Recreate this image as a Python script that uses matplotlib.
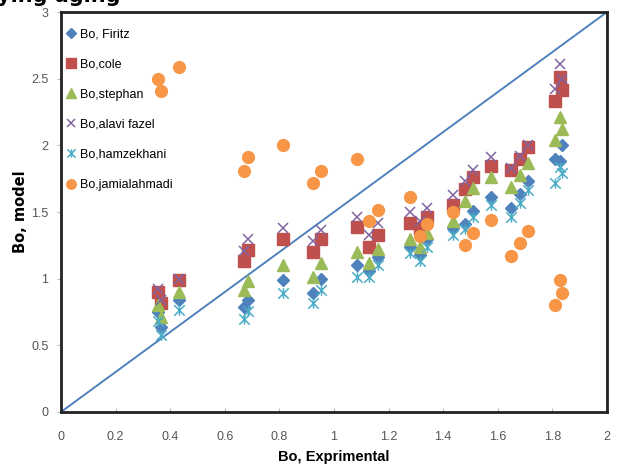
import numpy as np
import matplotlib
matplotlib.use('Agg')
import matplotlib.pyplot as plt
from matplotlib.path import Path

# experimental Bo values (x axis)
bo_exp = [0.357, 0.366, 0.433, 0.671, 0.686, 0.812, 0.925, 0.952, 1.083, 1.13, 1.16, 1.278,
          1.315, 1.342, 1.437, 1.48, 1.508, 1.575, 1.65, 1.68, 1.71, 1.81, 1.828, 1.834]

# model predictions
bo_firitz = [0.75, 0.64, 0.84, 0.785, 0.84, 0.99, 0.89, 1.0, 1.10, 1.06, 1.165, 1.24,
             1.18, 1.30, 1.38, 1.41, 1.51, 1.615, 1.53, 1.635, 1.735, 1.90, 1.88, 2.0]
bo_cole = [0.90, 0.815, 0.99, 1.13, 1.215, 1.30, 1.20, 1.30, 1.385, 1.235, 1.33, 1.415,
           1.38, 1.465, 1.55, 1.67, 1.76, 1.845, 1.815, 1.90, 1.99, 2.33, 2.515, 2.415]
bo_stephan = [0.80, 0.715, 0.90, 0.915, 0.98, 1.10, 1.015, 1.115, 1.20, 1.115, 1.22, 1.295,
              1.24, 1.34, 1.43, 1.58, 1.68, 1.765, 1.69, 1.78, 1.865, 2.04, 2.215, 2.12]
bo_alavi = [0.92, 0.84, 1.0, 1.21, 1.30, 1.38, 1.285, 1.365, 1.465, 1.33, 1.415, 1.50,
            1.43, 1.53, 1.63, 1.73, 1.815, 1.915, 1.83, 1.92, 2.0, 2.42, 2.61, 2.5]
bo_hamzekhani = [0.68, 0.58, 0.765, 0.70, 0.76, 0.89, 0.815, 0.915, 1.015, 1.015, 1.10, 1.19,
                 1.13, 1.24, 1.33, 1.37, 1.465, 1.55, 1.465, 1.565, 1.665, 1.715, 1.84, 1.79]
bo_jamialahmadi = [2.50, 2.41, 2.59, 1.81, 1.915, 2.0, 1.715, 1.81, 1.90, 1.43, 1.515, 1.61,
                   1.32, 1.41, 1.50, 1.255, 1.345, 1.44, 1.17, 1.265, 1.357, 0.80, 0.99, 0.89]

x_ticks = [0, 0.2, 0.4, 0.6, 0.8, 1, 1.2, 1.4, 1.6, 1.8, 2]
x_ticklabels = ['0', '0.2', '0.4', '0.6', '0.8', '1', '1.2', '1.4', '1.6', '1.8', '2']
y_ticks = [0, 0.5, 1, 1.5, 2, 2.5, 3]
y_ticklabels = ['0', '0.5', '1', '1.5', '2', '2.5', '3']

# excel style "star" marker: an x with a vertical bar
star = Path([(-1, -1), (1, 1), (-1, 1), (1, -1), (0, -1), (0, 1)],
            [Path.MOVETO, Path.LINETO, Path.MOVETO, Path.LINETO, Path.MOVETO, Path.LINETO])

plt.rcParams['font.family'] = ['Liberation Sans', 'DejaVu Sans']

fig = plt.figure(figsize=(6.19, 4.65), dpi=100)
ax = fig.add_axes([0.0985, 0.114, 0.882, 0.86])

ax.plot(bo_exp, bo_firitz, 'D', color='#4F81BD', ms=6.5, ls='none', label='Bo, Firitz')
ax.plot(bo_exp, bo_cole, 's', color='#C0504D', ms=8.5, ls='none', label='Bo,cole')
ax.plot(bo_exp, bo_stephan, '^', color='#9BBB59', ms=9, ls='none', label='Bo,stephan')
ax.plot(bo_exp, bo_alavi, 'x', color='#8064A2', ms=7.5, mew=1.1, ls='none', label='Bo,alavi fazel')
ax.plot(bo_exp, bo_hamzekhani, marker=star, color='#4BACC6', ms=7.5, mew=1.1, ls='none',
        label='Bo,hamzekhani')
ax.plot(bo_exp, bo_jamialahmadi, 'o', color='#F79646', ms=8.5, ls='none', label='Bo,jamialahmadi')

# reference line across the plot
ax.plot([0, 2], [0, 3], color='#4F81BD', lw=1.4, zorder=1)

ax.set_xlim(0, 2)
ax.set_ylim(0, 3)
ax.set_xticks(x_ticks)
ax.set_xticklabels(x_ticklabels)
ax.set_yticks(y_ticks)
ax.set_yticklabels(y_ticklabels)
ax.tick_params(axis='x', direction='in', length=3, color='#bbbbbb', labelsize=9,
               labelcolor='#555555', pad=14)
ax.tick_params(axis='y', direction='out', length=3, color='#bbbbbb', labelsize=9,
               labelcolor='#555555', pad=6)
for s in ax.spines.values():
    s.set_linewidth(2)
    s.set_color('#222222')

ax.set_xlabel('Bo, Exprimental', fontsize=10.5, fontweight='bold', labelpad=5)
ax.set_ylabel('Bo, model', fontsize=10.5, fontweight='bold', family='DejaVu Sans')
ax.yaxis.set_label_coords(-0.06, 0.5)

ax.legend(loc='upper left', bbox_to_anchor=(0.0, 0.975), frameon=False, fontsize=9,
          handlelength=0.6, handletextpad=0.4, labelspacing=1.45, borderaxespad=0.1,
          markerscale=0.8)

# cropped caption at the very top of the image
fig.text(-0.005, 1 - 6 / 465, 'ying aging', fontsize=15, fontweight='bold', va='bottom',
         ha='left', family='DejaVu Sans')

fig.savefig('out.png', dpi=100)
